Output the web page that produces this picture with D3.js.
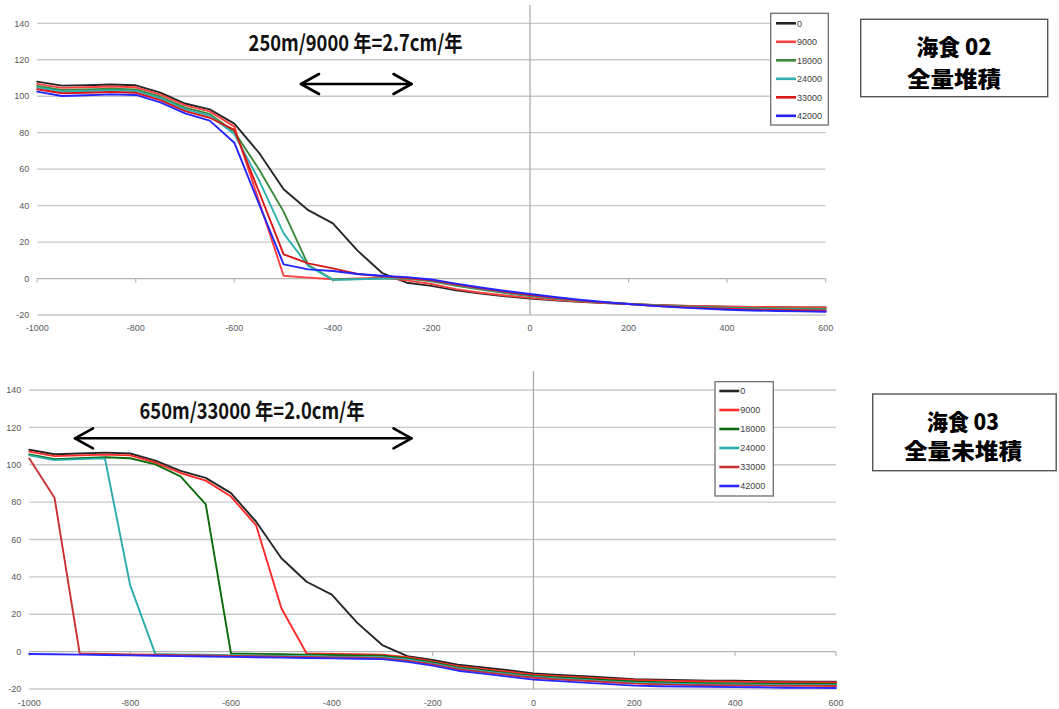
<!DOCTYPE html>
<html><head><meta charset="utf-8">
<script src="https://cdn.jsdelivr.net/npm/d3@7"></script>
<style>body{margin:0;background:#fff} svg{display:block}</style>
</head><body><svg id="c" width="1059" height="709"></svg>
<script>
// ---------- data ----------
const xValues = [-1000,-950,-900,-850,-800,-750,-700,-650,-600,-550,-500,-450,-400,-350,-300,-250,-200,-150,-100,-50,0,50,100,150,200,250,300,350,400,450,500,550,600];
const seriesNames = ["0","9000","18000","24000","33000","42000"];
const yTicks = [-20,0,20,40,60,80,100,120,140];
const xTicks = [-1000,-800,-600,-400,-200,0,200,400,600];

// chart 1 : 海食02 全量堆積
const top0     = [108,105.8,106,106.4,106,102,96,92.8,85,69,49,37.5,30.3,15.3,3,-2.3,-4,-6.5,-8.3,-9.8,-11,-12,-12.8,-13.4,-14,-14.5,-14.9,-15.2,-15.5,-15.6,-15.7,-15.8,-15.8];
const top9000  = [106.8,104.6,104.9,105.3,104.9,100.9,95,91.7,83.3,42.5,1.5,0.5,-0.4,0,0.5,-1,-3,-5.8,-7.8,-9.3,-10.6,-11.7,-12.6,-13.3,-14,-14.5,-14.9,-15.2,-15.5,-15.6,-15.7,-15.8,-15.8];
const top18000 = [105.6,103.4,103.7,104.1,103.7,99.7,93.7,90.3,80.5,60,36.7,7.4,-0.5,-0.3,0,0,-1.5,-4,-6,-8,-9.6,-11,-12.2,-13.1,-13.9,-14.6,-15.2,-15.6,-16,-16.2,-16.4,-16.5,-16.5];
const top24000 = [104.8,102.6,102.9,103.3,102.9,98.9,92.8,89.4,79.3,54,24.8,6.9,-0.7,-0.4,0,0.2,-1.2,-3.6,-5.6,-7.6,-9.3,-10.8,-12.1,-13.1,-14,-14.8,-15.4,-15.9,-16.3,-16.6,-16.8,-16.9,-17];
const top33000 = [103.8,101.6,101.9,102.3,101.9,97.9,91.8,88.2,81.5,47.6,13.3,8.3,5.6,2.5,1.2,0.3,-1,-3.3,-5.3,-7.3,-9,-10.6,-12,-13.1,-14,-14.9,-15.6,-16.2,-16.6,-17,-17.2,-17.4,-17.5];
const top42000 = [102.5,100.1,100.5,101,100.7,96.6,90.6,86.6,74.5,41,7.8,5,4.1,2.5,1.5,0.8,-0.5,-2.8,-4.9,-6.8,-8.5,-10.1,-11.6,-12.9,-14,-15,-15.8,-16.5,-17.1,-17.5,-17.8,-18,-18.2];

// chart 2 : 海食03 全量未堆積
const bot0     = [108,105.6,106,106.5,106,102.2,96.7,93,84.8,69.5,50,37.4,30.5,15.5,3.5,-2.4,-4.5,-7,-8.5,-10,-11.7,-12.5,-13.2,-14,-14.7,-15,-15.3,-15.5,-15.6,-15.8,-16,-16.1,-16.1];
const bot9000  = [107,104.6,105,105.4,105,101.2,95.6,91.5,83,67.5,23.2,-1,-1.2,-1.4,-1.6,-3,-5.2,-7.8,-9.3,-10.8,-12.3,-13.1,-13.8,-14.6,-15.2,-15.5,-15.8,-16,-16.1,-16.3,-16.4,-16.5,-16.5];
const bot18000 = [105.5,103,103.5,104,103.5,100.2,93.8,78.8,-1,-1.2,-1.4,-1.6,-1.8,-2,-2.2,-3.6,-5.8,-8.4,-10,-11.5,-13,-13.8,-14.5,-15.3,-16,-16.4,-16.7,-16.9,-17,-17.1,-17.2,-17.2,-17.3];
const bot24000 = [105,102.5,103,103.4,35.6,-1.3,-1.5,-1.7,-1.9,-2.1,-2.3,-2.5,-2.7,-2.9,-3,-4.2,-6.3,-8.9,-10.5,-12,-13.5,-14.4,-15.1,-15.9,-16.6,-17,-17.3,-17.5,-17.6,-17.7,-17.8,-17.8,-17.9];
const bot33000 = [103.4,82.4,-1,-1.3,-1.5,-1.7,-1.9,-2.1,-2.3,-2.5,-2.7,-2.9,-3.1,-3.3,-3.5,-4.8,-6.8,-9.4,-11,-12.5,-14,-14.9,-15.6,-16.4,-17.1,-17.5,-17.8,-18,-18.1,-18.2,-18.3,-18.3,-18.4];
const bot42000 = [-1.3,-1.4,-1.6,-1.8,-2,-2.2,-2.4,-2.6,-2.8,-3,-3.2,-3.4,-3.6,-3.8,-4,-5.5,-7.5,-10.2,-11.8,-13.4,-15,-15.8,-16.6,-17.4,-18.2,-18.5,-18.7,-18.8,-19,-19.1,-19.3,-19.4,-19.5];

const topColors = ["#262626","#ff4040","#3a8a3a","#2eb0b0","#d81818","#2424ff"];
const botColors = ["#262626","#ff2a2a","#0d6b0d","#2aacac","#c83232","#2a2aff"];

const svg = d3.select("#c");

function drawChart(cfg){
  const g = svg.append("g");
  const x = d3.scaleLinear().domain([-1000,600]).range(cfg.xr);
  const y = d3.scaleLinear().domain([-20,140]).range(cfg.yr);
  // gridlines
  g.append("g").selectAll("line").data(yTicks).join("line")
    .attr("x1", x(-1000)).attr("x2", x(600))
    .attr("y1", d=>y(d)).attr("y2", d=>y(d))
    .attr("stroke", d=> d===0 ? "#b4b4b4" : "#c8c8c8").attr("stroke-width", 1.3);
  // x ticks on zero line
  g.append("g").selectAll("line").data(xTicks).join("line")
    .attr("x1", d=>x(d)).attr("x2", d=>x(d))
    .attr("y1", y(0)).attr("y2", y(0)+4)
    .attr("stroke", "#b4b4b4").attr("stroke-width", 1.2);
  // vertical axis at 0
  g.append("line").attr("x1", x(0)).attr("x2", x(0))
    .attr("y1", cfg.vTop).attr("y2", y(-20))
    .attr("stroke", "#a6a6a6").attr("stroke-width", 1.2);
  // y labels
  g.append("g").selectAll("text").data(yTicks).join("text")
    .attr("x", x(-1000)-8).attr("y", d=>y(d)+3.2)
    .attr("text-anchor","end").attr("font-family","Liberation Sans, Arial, sans-serif")
    .attr("font-size", 9).attr("fill","#595959").text(d=>d);
  // x labels
  g.append("g").selectAll("text").data(xTicks).join("text")
    .attr("x", d=>x(d)).attr("y", cfg.xLabY)
    .attr("text-anchor","middle").attr("font-family","Liberation Sans, Arial, sans-serif")
    .attr("font-size", 9).attr("fill","#595959").text(d=>d);
  // lines
  const line = d3.line().x((d,i)=>x(xValues[i])).y(d=>y(d));
  cfg.series.forEach((s,i)=>{
    g.append("path").datum(s).attr("d", line)
      .attr("fill","none").attr("stroke", cfg.colors[i]).attr("stroke-width", 1.9)
      .attr("stroke-linejoin","round").attr("stroke-linecap","round");
  });
  // legend
  const L = cfg.legend;
  g.append("rect").attr("x", L.x).attr("y", L.y).attr("width", L.w).attr("height", L.h)
    .attr("fill","#fff").attr("stroke","#6e6e6e").attr("stroke-width",1.3);
  seriesNames.forEach((n,i)=>{
    const yy = L.y0 + i*L.step;
    g.append("line").attr("x1", L.lx).attr("x2", L.lx+20).attr("y1", yy).attr("y2", yy)
      .attr("stroke", cfg.colors[i]).attr("stroke-width", 2.6);
    g.append("text").attr("x", L.lx+21).attr("y", yy+3.2)
      .attr("font-family","Liberation Sans, Arial, sans-serif").attr("font-size", 9)
      .attr("fill","#404040").text(n);
  });
  // annotation text
  g.append("text").attr("x", cfg.ann.x).attr("y", cfg.ann.y)
    .attr("font-family","Noto Sans CJK JP, sans-serif").attr("font-weight",700)
    .attr("font-size", 22).attr("fill","#111")
    .attr("textLength", cfg.ann.w).attr("lengthAdjust","spacingAndGlyphs")
    .text(cfg.ann.text);
  // arrow
  const A = cfg.arrow;
  const ag = g.append("g").attr("stroke","#000").attr("stroke-width",2.6).attr("fill","none")
    .attr("stroke-linecap","round").attr("stroke-linejoin","round");
  ag.append("line").attr("x1",A.x1).attr("x2",A.x2).attr("y1",A.y).attr("y2",A.y);
  ag.append("path").attr("d",`M${A.x1+18},${A.y-10} L${A.x1},${A.y} L${A.x1+18},${A.y+10}`);
  ag.append("path").attr("d",`M${A.x2-18},${A.y-10} L${A.x2},${A.y} L${A.x2-18},${A.y+10}`);
  // title box
  const T = cfg.title;
  g.append("rect").attr("x",T.x).attr("y",T.y).attr("width",T.w).attr("height",T.h)
    .attr("fill","#fff").attr("stroke","#555").attr("stroke-width",1.4);
  T.lines.forEach((t,i)=>{
    g.append("text").attr("x", T.cx).attr("y", T.ys[i]).attr("text-anchor","middle")
      .attr("font-family","Noto Sans CJK JP, sans-serif").attr("font-weight",900)
      .attr("font-size", 22).attr("fill","#000")
      .attr("textLength", T.tw[i]).attr("lengthAdjust","spacingAndGlyphs")
      .text(t);
  });
}

drawChart({
  xr:[37.2,825.7], yr:[315,23.3], vTop:5, xLabY:331,
  series:[top0,top9000,top18000,top24000,top33000,top42000], colors:topColors,
  legend:{x:770.7,y:13.3,w:57.6,h:111.7,lx:776,y0:23.3,step:18.5},
  ann:{x:248.6,y:50.5,w:214,text:"250m/9000 年=2.7cm/年"},
  arrow:{x1:301,x2:411.5,y:84},
  title:{x:860.7,y:19.3,w:187,h:77.4,cx:954,ys:[54.5,86.5],tw:[75,94],lines:["海食 02","全量堆積"]}
});
drawChart({
  xr:[29.3,836], yr:[689,390], vTop:371, xLabY:706,
  series:[bot0,bot9000,bot18000,bot24000,bot33000,bot42000], colors:botColors,
  legend:{x:715,y:381.7,w:58.3,h:114.3,lx:719.3,y0:391,step:19},
  ann:{x:139.5,y:418.5,w:225,text:"650m/33000 年=2.0cm/年"},
  arrow:{x1:75,x2:411.5,y:438.3},
  title:{x:872.7,y:394,w:183.5,h:76.7,cx:963,ys:[429.5,458.5],tw:[72,118],lines:["海食 03","全量未堆積"]}
});
</script></body></html>
